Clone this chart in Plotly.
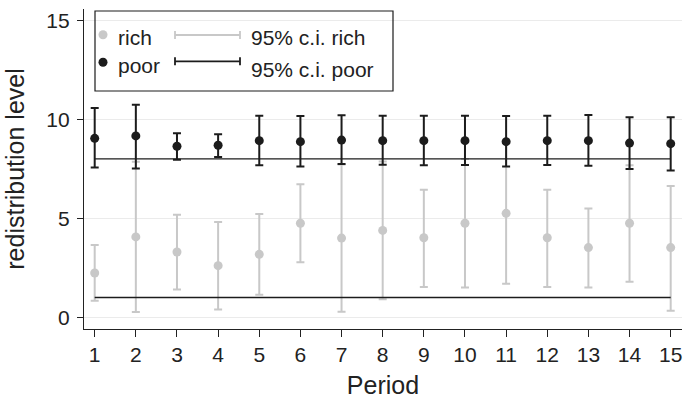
import plotly.graph_objects as go

# Redistribution level by period, with 95% confidence intervals
periods = list(range(1, 16))

rich_mean = [2.24, 4.06, 3.30, 2.61, 3.18, 4.75, 4.00, 4.39, 4.02, 4.75, 5.25, 4.02, 3.52, 4.75, 3.52]
rich_lo = [0.84, 0.27, 1.41, 0.40, 1.14, 2.78, 0.28, 0.91, 1.53, 1.50, 1.70, 1.53, 1.50, 1.80, 0.33]
rich_hi = [3.65, 7.85, 5.18, 4.81, 5.22, 6.72, 7.72, 7.87, 6.44, 8.00, 8.80, 6.44, 5.49, 7.68, 6.63]

poor_mean = [9.04, 9.16, 8.64, 8.69, 8.92, 8.87, 8.95, 8.92, 8.92, 8.92, 8.87, 8.92, 8.92, 8.80, 8.77]
poor_lo = [7.56, 7.52, 7.96, 8.10, 7.68, 7.61, 7.74, 7.71, 7.68, 7.69, 7.61, 7.69, 7.66, 7.49, 7.42]
poor_hi = [10.57, 10.74, 9.29, 9.24, 10.18, 10.17, 10.20, 10.18, 10.18, 10.18, 10.17, 10.18, 10.22, 10.10, 10.10]

# reference levels drawn as horizontal lines across all periods
rich_ref = 1
poor_ref = 8

y_ticks = [0, 5, 10, 15]
legend_labels = ["rich", "poor", "95% c.i. rich", "95% c.i. poor"]

RICH_COLOR = "#c8c8c8"
POOR_COLOR = "#1c1c1c"
TEXT_COLOR = "#222222"
FONT = "Liberation Sans, Arial, Helvetica, sans-serif"
FS = 21

W, H = 683, 400
ML, MR, MT, MB = 84, 1, 9, 71
PW, PH = W - ML - MR, H - MT - MB


def px_x(x):
    return (x - ML) / PW


def px_y(y):
    return (H - MB - y) / PH


fig = go.Figure()

fig.add_trace(go.Scatter(
    x=periods, y=rich_mean, mode="markers", name=legend_labels[0],
    marker=dict(color=RICH_COLOR, size=9),
    error_y=dict(type="data", symmetric=False,
                 array=[h - m for h, m in zip(rich_hi, rich_mean)],
                 arrayminus=[m - l for m, l in zip(rich_mean, rich_lo)],
                 color=RICH_COLOR, thickness=2, width=4),
    showlegend=False,
))

for ref in (rich_ref, poor_ref):
    fig.add_trace(go.Scatter(
        x=[periods[0], periods[-1]], y=[ref, ref], mode="lines",
        line=dict(color=POOR_COLOR, width=1.4), showlegend=False, hoverinfo="skip",
    ))

fig.add_trace(go.Scatter(
    x=periods, y=poor_mean, mode="markers", name=legend_labels[1],
    marker=dict(color=POOR_COLOR, size=9),
    error_y=dict(type="data", symmetric=False,
                 array=[h - m for h, m in zip(poor_hi, poor_mean)],
                 arrayminus=[m - l for m, l in zip(poor_mean, poor_lo)],
                 color=POOR_COLOR, thickness=2, width=4),
    showlegend=False,
))

# hand-built legend box in pixel positions
shapes = [dict(type="rect", xref="paper", yref="paper",
               x0=px_x(95), x1=px_x(393), y0=px_y(11), y1=px_y(91),
               line=dict(color=POOR_COLOR, width=1.2), fillcolor="rgba(0,0,0,0)")]
for cy, col in ((34.7, RICH_COLOR), (62.3, POOR_COLOR)):
    shapes.append(dict(type="circle", xref="paper", yref="paper",
                       x0=px_x(98.5), x1=px_x(107.5), y0=px_y(cy + 4.5), y1=px_y(cy - 4.5),
                       line=dict(width=0), fillcolor=col))
for cy, col in ((35, RICH_COLOR), (61.3, POOR_COLOR)):
    shapes.append(dict(type="line", xref="paper", yref="paper",
                       x0=px_x(175), x1=px_x(240), y0=px_y(cy), y1=px_y(cy),
                       line=dict(color=col, width=1.8)))
    for ex in (175, 240):
        shapes.append(dict(type="line", xref="paper", yref="paper",
                           x0=px_x(ex), x1=px_x(ex), y0=px_y(cy - 4), y1=px_y(cy + 4),
                           line=dict(color=col, width=1.8)))

annotations = []
for text, x, y in ((legend_labels[0], 116, 38), (legend_labels[1], 116, 65.7),
                   (legend_labels[2], 249, 38), (legend_labels[3], 249, 69)):
    annotations.append(dict(text=text, xref="paper", yref="paper", x=px_x(x), y=px_y(y),
                            xanchor="left", yanchor="middle", showarrow=False,
                            font=dict(family=FONT, size=FS, color=TEXT_COLOR)))

fig.update_layout(
    width=W, height=H,
    margin=dict(l=ML, r=MR, t=MT, b=MB, pad=0),
    paper_bgcolor="white", plot_bgcolor="white",
    font=dict(family=FONT, size=FS, color=TEXT_COLOR),
    shapes=shapes, annotations=annotations,
    xaxis=dict(range=[0.74, 15.275], tickvals=periods, ticks="outside", ticklen=7,
               tickcolor=TEXT_COLOR, showline=True, linecolor=TEXT_COLOR, linewidth=1.2,
               showgrid=False, zeroline=False, automargin=False,
               title=dict(text="Period", standoff=11)),
    yaxis=dict(range=[-0.59, 15.57], tickvals=y_ticks, ticks="outside", ticklen=6,
               tickcolor=TEXT_COLOR, showline=True, linecolor=TEXT_COLOR, linewidth=1.2,
               showgrid=True, gridcolor="#ebebeb", gridwidth=1, zeroline=False,
               automargin=False, ticklabelstandoff=3,
               title=dict(text="redistribution level", standoff=14)),
)

fig.write_html("out.html")
